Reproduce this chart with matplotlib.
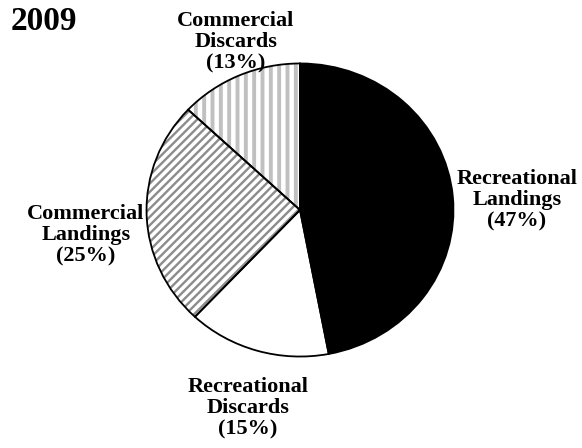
import matplotlib
matplotlib.use("Agg")
from matplotlib import pyplot as plt

plt.rcParams['font.family'] = ['Liberation Serif', 'DejaVu Serif']
plt.rcParams['hatch.linewidth'] = 2.4

year = "2009"
labels = ["Recreational\nLandings", "Recreational\nDiscards",
          "Commercial\nLandings", "Commercial\nDiscards"]
shares = [47, 15, 25, 13]

faces = ['black', 'white', 'white', 'white']
hatches = [None, None, '////', '||']
hatch_colors = ['black', 'white', '#8c8c8c', '#c0c0c0']
hatch_widths = [1, 1, 1.7, 2.8]

W, H = 582, 448
fig = plt.figure(figsize=(W / 100, H / 100), dpi=100)
fig.patch.set_facecolor('white')

# pie box in pixels: left 145, right 455, top 62, bottom 358
ax = fig.add_axes([145 / W, 1 - 358 / H, 310 / W, 296 / H])

# fill + hatch layer
wedges, _ = ax.pie(shares, startangle=90, counterclock=False, colors=faces,
                   wedgeprops=dict(linewidth=0))
for w, h, c, lw in zip(wedges, hatches, hatch_colors, hatch_widths):
    if h:
        w.set_hatch(h)
        w.set_edgecolor(c)
        if hasattr(w, 'set_hatch_linewidth'):
            w.set_hatch_linewidth(lw)

# outline layer
ax.pie(shares, startangle=90, counterclock=False,
       wedgeprops=dict(fill=False, edgecolor='black', linewidth=1.3))

ax.set_aspect('auto')
ax.set_xlim(-1.01, 1.01)
ax.set_ylim(-1.01, 1.01)
ax.axis('off')

# label centers in pixels
label_pos = [(517, 200), (248, 408), (86, 235), (236, 42)]
for lab, s, (px, py) in zip(labels, shares, label_pos):
    fig.text(px / W, 1 - py / H, f"{lab}\n({s}%)", ha='center', va='center',
             fontsize=16, fontweight='bold', linespacing=1.08)

fig.text(11 / W, 1 - 22 / H, year, ha='left', va='center',
         fontsize=24, fontweight='bold')

plt.savefig('out.png', dpi=100)
